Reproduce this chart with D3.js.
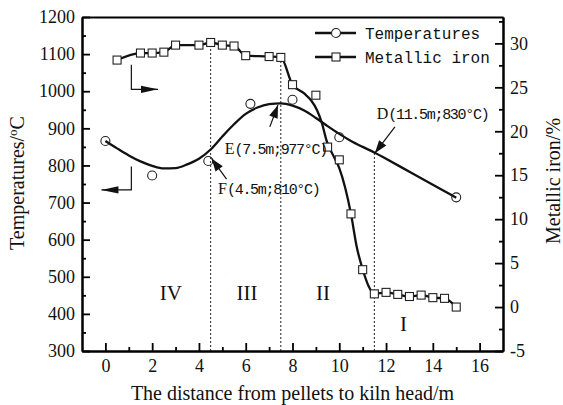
<!DOCTYPE html>
<html>
<head>
<meta charset="utf-8">
<script src="https://cdn.jsdelivr.net/npm/d3@7"></script>
<style>
  body { margin: 0; background: #fff; }
  text { font-family: "Liberation Serif", "Times New Roman", serif; fill: #111; }
  .mono { font-family: "Liberation Mono", "DejaVu Sans Mono", monospace; }
</style>
</head>
<body>
<script>
const width = 563;
const height = 405;
const margin = { top: 17, right: 60, bottom: 54, left: 82 };

// measured temperatures (circles)
const tempX = [0, 2, 4.4, 6.2, 8, 10, 15];
const tempY = [866, 773, 812, 966, 977, 876, 714];

// fitted temperature curve
const fitX = [0, 0.5, 1, 1.5, 2, 2.5, 3, 3.5, 4, 4.5, 5, 5.5, 6, 6.5, 7, 7.5, 8, 8.5, 9, 9.5, 10, 10.5, 11, 11.5, 12, 13, 14, 15];
const fitY = [866, 846, 827, 811, 799, 792, 793, 803, 818, 843, 878, 911, 939, 956, 965, 967, 961, 948, 928, 906, 885, 866, 850, 835, 818, 783, 748, 713];

// metallic iron (squares)
const ironX = [0.5, 1.5, 2, 2.5, 3, 4, 4.5, 5, 5.5, 6, 7, 7.5, 8, 9, 9.5, 10, 10.5, 11, 11.5, 12, 12.5, 13, 13.5, 14, 14.5, 15];
const ironY = [28.1, 28.9, 28.9, 29.0, 29.8, 29.8, 30.1, 29.8, 29.7, 28.6, 28.5, 28.4, 25.3, 24.1, 18.2, 16.75, 10.6, 4.25, 1.5, 1.67, 1.44, 1.2, 1.36, 1.07, 0.99, 0.0];

// drawn iron curve (smoothed between 7.5 and 11.5 m)
const ironFitX = [0.5, 1.5, 2, 2.5, 3, 4, 4.5, 5, 5.5, 6, 7, 7.5, 8, 8.5, 8.8, 9.05, 9.25, 9.46, 9.75, 10, 10.25, 10.5, 10.75, 11, 11.25, 11.5, 12, 12.5, 13, 13.5, 14, 14.5, 15];
const ironFitY = [28.1, 28.9, 28.9, 29.0, 29.8, 29.8, 30.1, 29.8, 29.7, 28.6, 28.5, 28.4, 25.3, 24.3, 23.5, 22.4, 21.0, 18.9, 17.2, 15.8, 13.6, 10.6, 6.8, 4.3, 2.4, 1.5, 1.67, 1.44, 1.2, 1.36, 1.07, 0.99, 0.0];

const xTicks = d3.range(0, 17, 2);
const tempTicks = d3.range(300, 1201, 100);
const ironTicks = d3.range(-5, 31, 5);

// zone labels and boundaries
const zoneNames = ["IV", "III", "II", "I"];
const zoneX = [2.8, 6.05, 9.3, 12.75];
const zoneT = [437, 437, 437, 355];
const boundaryX = [4.5, 7.5, 11.5];

// callouts: label, detail, text anchor (x, temp), arrow tail and tip (x, temp)
const callouts = [
    { head: "E", rest: "(7.5m;977°C)", at: [5.1, 831], tail: [7.03, 904], tip: [7.38, 963] },
    { head: "F", rest: "(4.5m;810°C)", at: [4.82, 723], tail: [5.18, 763], tip: [4.54, 819] },
    { head: "D", rest: "(11.5m;830°C)", at: [11.6, 925], tail: [12.38, 904], tip: [11.52, 833] }
];

const svg = d3.select("body").append("svg")
    .attr("width", width)
    .attr("height", height);

const x = d3.scaleLinear([-1, 17], [margin.left, width - margin.right]);
const yT = d3.scaleLinear([300, 1200], [height - margin.bottom, margin.top]);
const yI = d3.scaleLinear([-5, 33], [height - margin.bottom, margin.top]);

function arrowHead(x1, y1, x2, y2, len, half) {
    const dx = x2 - x1, dy = y2 - y1;
    const d = Math.hypot(dx, dy);
    const ux = dx / d, uy = dy / d;
    const bx = x2 - ux * len, by = y2 - uy * len;
    return `M${x2},${y2}L${bx - uy * half},${by + ux * half}L${bx + uy * half},${by - ux * half}Z`;
}

// dotted zone boundaries
const boundaryTop = [yI(30.1), yI(28.4), yT(835)];
svg.append("g")
    .selectAll("line")
    .data(boundaryX)
    .join("line")
    .attr("x1", d => x(d))
    .attr("x2", d => x(d))
    .attr("y1", yT(300))
    .attr("y2", (d, i) => boundaryTop[i])
    .attr("stroke", "#222")
    .attr("stroke-width", 1)
    .attr("stroke-dasharray", "2,2");

// axes
const fmt = d => String(d);
const axisStyle = g => g.call(g => g.selectAll(".domain").attr("stroke-width", 2))
    .call(g => g.selectAll(".tick line").attr("stroke-width", 1.8))
    .call(g => g.selectAll("text")
        .style("font-size", "18px")
        .style("font-family", "'Liberation Serif', 'Times New Roman', serif")
        .attr("fill", "#111"));

svg.append("g")
    .attr("transform", `translate(0,${margin.top})`)
    .call(d3.axisTop(x).tickValues([]).tickSizeOuter(0))
    .call(axisStyle);

svg.append("g")
    .attr("transform", `translate(0,${height - margin.bottom})`)
    .call(d3.axisBottom(x).tickValues(d3.range(1, 17, 2)).tickSize(-4).tickFormat("").tickSizeOuter(0))
    .call(axisStyle);
svg.append("g")
    .attr("transform", `translate(0,${height - margin.bottom})`)
    .call(d3.axisBottom(x).tickValues(xTicks).tickFormat(fmt).tickSize(-8).tickPadding(8).tickSizeOuter(0))
    .call(axisStyle);

svg.append("g")
    .attr("transform", `translate(${margin.left},0)`)
    .call(d3.axisLeft(yT).tickValues(d3.range(350, 1200, 100)).tickSize(-4).tickFormat("").tickSizeOuter(0))
    .call(axisStyle);
svg.append("g")
    .attr("transform", `translate(${margin.left},0)`)
    .call(d3.axisLeft(yT).tickValues(tempTicks).tickFormat(fmt).tickSize(-8).tickPadding(7).tickSizeOuter(0))
    .call(axisStyle);

svg.append("g")
    .attr("transform", `translate(${width - margin.right},0)`)
    .call(d3.axisRight(yI).tickValues(d3.range(-2.5, 33, 5)).tickSize(-4).tickFormat("").tickSizeOuter(0))
    .call(axisStyle);
svg.append("g")
    .attr("transform", `translate(${width - margin.right},0)`)
    .call(d3.axisRight(yI).tickValues(ironTicks).tickFormat(fmt).tickSize(-8).tickPadding(7).tickSizeOuter(0))
    .call(axisStyle);

// axis titles
svg.append("text")
    .attr("x", (margin.left + width - margin.right) / 2)
    .attr("y", 400)
    .attr("text-anchor", "middle")
    .attr("font-size", 20)
    .text("The distance from pellets to kiln head/m");

const leftTitle = svg.append("text")
    .attr("transform", "translate(24,183) rotate(-90)")
    .attr("text-anchor", "middle")
    .attr("font-size", 20);
leftTitle.append("tspan").text("Temperatures/");
leftTitle.append("tspan").attr("font-size", 13).attr("dy", -7).text("o");
leftTitle.append("tspan").attr("dy", 7).text("C");

svg.append("text")
    .attr("transform", "translate(560,181) rotate(-90)")
    .attr("text-anchor", "middle")
    .attr("font-size", 20)
    .text("Metallic iron/%");

// zone numerals
svg.append("g")
    .selectAll("text")
    .data(zoneNames)
    .join("text")
    .attr("x", (d, i) => x(zoneX[i]))
    .attr("y", (d, i) => yT(zoneT[i]))
    .attr("text-anchor", "middle")
    .attr("font-size", 21)
    .text(d => d);

// metallic iron line
const ironLine = d3.line()
    .x(d => x(d[0]))
    .y(d => yI(d[1]))
    .curve(d3.curveMonotoneX);

svg.append("path")
    .datum(d3.zip(ironFitX, ironFitY))
    .attr("fill", "none")
    .attr("stroke", "#111")
    .attr("stroke-width", 2.3)
    .attr("d", ironLine);

// temperature fit
const tempLine = d3.line()
    .x(d => x(d[0]))
    .y(d => yT(d[1]))
    .curve(d3.curveMonotoneX);

svg.append("path")
    .datum(d3.zip(fitX, fitY))
    .attr("fill", "none")
    .attr("stroke", "#111")
    .attr("stroke-width", 2.3)
    .attr("d", tempLine);

svg.append("g")
    .selectAll("rect")
    .data(d3.zip(ironX, ironY))
    .join("rect")
    .attr("x", d => x(d[0]) - 4)
    .attr("y", d => yI(d[1]) - 4)
    .attr("width", 8)
    .attr("height", 8)
    .attr("fill", "#fff")
    .attr("stroke", "#222")
    .attr("stroke-width", 1.1);

svg.append("g")
    .selectAll("circle")
    .data(d3.zip(tempX, tempY))
    .join("circle")
    .attr("cx", d => x(d[0]))
    .attr("cy", d => yT(d[1]))
    .attr("r", 4.5)
    .attr("fill", "none")
    .attr("stroke", "#222")
    .attr("stroke-width", 1.1);

// callouts
const co = svg.append("g").selectAll("g").data(callouts).join("g");
co.append("line")
    .attr("x1", d => x(d.tail[0]))
    .attr("y1", d => yT(d.tail[1]))
    .attr("x2", d => x(d.tip[0]))
    .attr("y2", d => yT(d.tip[1]))
    .attr("stroke", "#111")
    .attr("stroke-width", 1.2);
co.append("path")
    .attr("d", d => arrowHead(x(d.tail[0]), yT(d.tail[1]), x(d.tip[0]), yT(d.tip[1]), 13, 4.5))
    .attr("fill", "#111");
const ct = co.append("text")
    .attr("x", d => x(d.at[0]))
    .attr("y", d => yT(d.at[1]));
ct.append("tspan").attr("font-size", 16).text(d => d.head);
ct.append("tspan").attr("class", "mono").attr("font-size", 15).attr("letter-spacing", -1.3).text(d => d.rest);

// axis pointers: temperature to the left, iron to the right
const pointers = [
    { pts: [[1.11, 797], [1.11, 734], [-0.17, 734]] },
    { pts: [[1.11, 1071], [1.11, 1005], [2.25, 1005]] }
];
const pg = svg.append("g").selectAll("g").data(pointers).join("g");
pg.append("path")
    .attr("d", d => d3.line().x(p => x(p[0])).y(p => yT(p[1]))(d.pts))
    .attr("fill", "none")
    .attr("stroke", "#111")
    .attr("stroke-width", 1.2);
pg.append("path")
    .attr("d", d => {
        const a = d.pts[1], b = d.pts[2];
        return arrowHead(x(a[0]), yT(a[1]), x(b[0]), yT(b[1]), 17, 3.6);
    })
    .attr("fill", "#111");

// legend
const legendItems = ["Temperatures", "Metallic iron"];
const lg = svg.append("g").selectAll("g").data(legendItems).join("g")
    .attr("transform", (d, i) => `translate(315,${33 + i * 24})`);
lg.append("line")
    .attr("x1", 0).attr("x2", 41)
    .attr("stroke", "#111")
    .attr("stroke-width", 2.3);
lg.filter((d, i) => i === 0).append("circle")
    .attr("cx", 21).attr("r", 4.5)
    .attr("fill", "#fff").attr("stroke", "#222").attr("stroke-width", 1.1);
lg.filter((d, i) => i === 1).append("rect")
    .attr("x", 17).attr("y", -4).attr("width", 8).attr("height", 8)
    .attr("fill", "#fff").attr("stroke", "#222").attr("stroke-width", 1.1);
lg.append("text")
    .attr("class", "mono")
    .attr("x", 50)
    .attr("y", 5.5)
    .attr("font-size", 16)
    .text(d => d);
</script>
</body>
</html>
